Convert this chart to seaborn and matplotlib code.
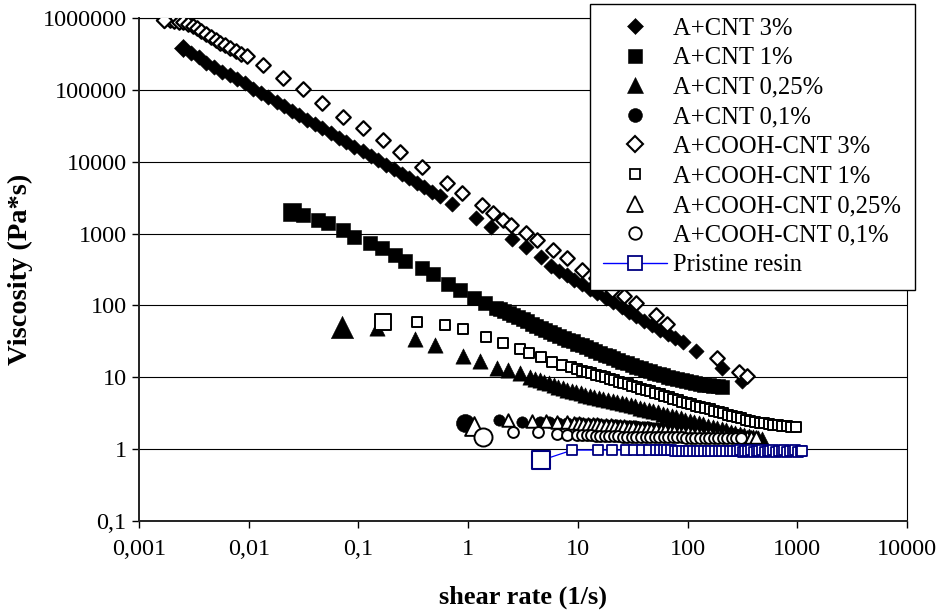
import matplotlib
matplotlib.use("Agg")
import matplotlib.pyplot as plt
from matplotlib.lines import Line2D
from matplotlib.ticker import FixedLocator, FixedFormatter, NullLocator
import pandas as pd
import seaborn as sns

# ---------------- data ----------------
series_labels = ["A+CNT 3%", "A+CNT 1%", "A+CNT 0,25%", "A+CNT 0,1%",
                 "A+COOH-CNT 3%", "A+COOH-CNT 1%", "A+COOH-CNT 0,25%",
                 "A+COOH-CNT 0,1%", "Pristine resin"]

cnt3_x = [0.0025, 0.0030, 0.0035, 0.0041, 0.0048, 0.0057, 0.0067, 0.0079, 0.0093, 0.011,
          0.013, 0.015, 0.018, 0.021, 0.025, 0.029, 0.034, 0.040, 0.047, 0.056,
          0.066, 0.077, 0.091, 0.11, 0.13, 0.15, 0.18, 0.21, 0.25, 0.29,
          0.34, 0.40, 0.47, 0.55, 0.72, 1.19, 1.63, 2.5, 3.4, 4.66, 5.7,
          6.7, 7.9, 9.3, 11, 13, 15, 18, 21, 25, 29, 34, 40, 47, 56, 66, 77,
          90, 120, 207, 315]
cnt3_y = [380000, 330000, 285000, 240000, 210000, 180000, 160000, 141000, 123000, 104000,
          90000, 79000, 68000, 59000, 51000, 44500, 38500, 33500, 29000, 25000,
          21500, 18800, 16200, 13900, 12000, 10500, 9000, 7800, 6700, 5900,
          5100, 4400, 3850, 3350, 2600, 1640, 1230, 840, 650, 470, 355,
          305, 264, 228, 197, 170, 148, 127, 110, 95, 82, 71, 61, 53, 46, 40, 35,
          31, 23, 13.4, 8.9]

cnt1_x = [0.025, 0.031, 0.043, 0.0525, 0.072, 0.092, 0.127, 0.163, 0.214, 0.264,
          0.377, 0.474, 0.65, 0.836, 1.14, 1.41, 1.81,
          1.95, 2.14, 2.36, 2.59, 2.85, 3.14, 3.45, 3.8, 4.18, 4.59,
          5.05, 5.56, 6.12, 6.73, 7.4, 8.14, 8.95, 9.85, 10.8, 11.9,
          13.1, 14.4, 15.9, 17.5, 19.2, 21.1, 23.2, 25.5, 28.1, 30.9,
          34, 37.4, 41.1, 45.2, 49.7, 54.7, 60.2, 66.2, 72.8, 80.1,
          88.1, 96.9, 107, 117, 129, 142, 156, 172, 189, 208]
cnt1_y = [1990, 1800, 1535, 1400, 1110, 890, 735, 627, 500, 413,
          330, 272, 198, 163, 126, 108, 92,
          88, 83, 78, 73, 68, 64, 60, 56, 52.5, 49,
          46, 43, 40.5, 38, 35.5, 33.5, 31.5, 29.5, 28, 26.2,
          24.7, 23.3, 22, 20.7, 19.6, 18.5, 17.4, 16.5, 15.6, 14.8,
          14.0, 13.3, 12.7, 12.1, 11.6, 11.1, 10.6, 10.2, 9.8, 9.45,
          9.1, 8.8, 8.55, 8.3, 8.1, 7.9, 7.75, 7.6, 7.45, 7.35]

cnt025_x = [0.0705, 0.147, 0.325, 0.50, 0.89, 1.27, 1.85, 2.33, 2.94, 3.7,
            4.1, 4.5, 4.96, 5.45, 6.0, 6.6, 7.26, 7.99, 8.79, 9.67,
            10.6, 11.7, 12.9, 14.1, 15.6, 17.1, 18.8, 20.7, 22.8, 25.1,
            27.6, 30.3, 33.4, 36.7, 40.4, 44.4, 48.9, 53.8, 59.1, 65,
            71.5, 78.7, 86.6, 95.2, 105, 115, 127, 139, 153, 169,
            185, 204, 224, 247, 272, 299, 329, 361, 398, 437, 481]
cnt025_y = [50, 48, 34, 28, 20, 16.8, 13.4, 12.6, 11.4, 10,
            9.5, 9.05, 8.65, 8.3, 7.85, 7.4, 7.05, 6.75, 6.5, 6.2,
            6.0, 5.75, 5.55, 5.35, 5.15, 4.97, 4.8, 4.65, 4.5, 4.38,
            4.22, 4.08, 3.93, 3.78, 3.63, 3.5, 3.38, 3.25, 3.13, 3.0,
            2.9, 2.78, 2.67, 2.57, 2.48, 2.39, 2.3, 2.21, 2.12, 2.04,
            1.97, 1.9, 1.83, 1.76, 1.7, 1.64, 1.58, 1.53, 1.48, 1.44, 1.4]

cnt01_x = [0.93, 1.93, 3.1, 4.5, 5.5, 6.6, 8, 9.6,
           10.5, 11.6, 12.7, 14, 15.4, 16.9, 18.6, 20.5, 22.5, 24.8,
           27.3, 30, 33, 36.3, 39.9, 43.9, 48.3, 53.1, 58.4, 64.3,
           70.7, 77.8, 85.6, 94.1, 104, 114, 125, 138, 152, 167,
           183, 202, 222, 244, 268]
cnt01_y = [2.3, 2.54, 2.4, 2.38, 2.36, 2.34, 2.32, 2.3,
           2.29, 2.27, 2.26, 2.24, 2.22, 2.2, 2.19, 2.17, 2.15, 2.13,
           2.11, 2.09, 2.07, 2.05, 2.03, 2.01, 1.99, 1.97, 1.95, 1.92,
           1.9, 1.88, 1.86, 1.84, 1.82, 1.8, 1.78, 1.76, 1.74, 1.73,
           1.71, 1.69, 1.67, 1.66, 1.64]

coo3_x = [0.0017, 0.0019, 0.0021, 0.0023, 0.0025, 0.0028, 0.0031, 0.0034, 0.0037, 0.0041,
          0.0045, 0.0050, 0.0055, 0.0061, 0.0068, 0.0076, 0.0085, 0.0096,
          0.0134, 0.0205, 0.031, 0.047, 0.072, 0.109, 0.166, 0.238, 0.38, 0.64,
          0.87, 1.35, 1.67, 2.06, 2.48, 3.4, 4.2, 5.9, 7.9, 11,
          14.5, 20.6, 26.5, 34, 52, 65, 186, 296, 350]
coo3_y = [950000, 930000, 910000, 890000, 870000, 830000, 780000, 720000, 660000, 600000,
          550000, 500000, 455000, 415000, 380000, 350000, 320000, 295000,
          225000, 148000, 103000, 66000, 42000, 29500, 19800, 13500, 8400, 5000,
          3650, 2480, 1920, 1540, 1310, 1010, 810, 590, 455, 310,
          240, 163, 135, 108, 73, 55, 18.5, 11.8, 10.4]

coo1_x = [0.166, 0.34, 0.61, 0.89, 1.47, 2.06, 2.94, 3.62, 4.66, 5.86, 7.2, 8.7, 9.9,
          11, 12.1, 13.3, 14.6, 16.1, 17.7, 19.5, 21.4, 23.6, 25.9,
          28.5, 31.4, 34.5, 38, 41.8, 45.9, 50.5, 55.6, 61.2, 67.3,
          74, 81.4, 89.5, 98.5, 108, 119, 131, 144, 159, 175,
          192, 211, 232, 256, 281, 309, 340, 374, 411, 453,
          498, 548, 602, 663, 729, 802, 882, 970]
coo1_y = [58.6, 58.6, 53, 46.8, 36, 30, 24.7, 21.7, 19.1, 16.3, 14.8, 13.9, 13,
          12.4, 11.9, 11.4, 10.9, 10.4, 9.95, 9.5, 9.1, 8.7, 8.35,
          8.0, 7.65, 7.3, 6.95, 6.65, 6.35, 6.05, 5.8, 5.5, 5.25,
          5.05, 4.8, 4.6, 4.4, 4.2, 4.03, 3.87, 3.72, 3.57, 3.42,
          3.28, 3.14, 3.0, 2.88, 2.77, 2.67, 2.57, 2.48, 2.41, 2.34,
          2.28, 2.23, 2.18, 2.14, 2.1, 2.07, 2.05, 2.03]

coo025_x = [1.14, 2.29, 3.8, 5.17, 6.5, 7.9, 9.3,
            10.2, 11.2, 12.3, 13.6, 14.9, 16.4, 18.1, 19.9, 21.9, 24.1,
            26.5, 29.1, 32, 35.2, 38.7, 42.6, 46.9, 51.6, 56.7, 62.4,
            68.6, 75.5, 83, 91.3, 100, 110, 121, 133, 147, 161,
            177, 195, 215, 236, 260, 286, 314, 346, 380, 418]
coo025_y = [2.1, 2.55, 2.48, 2.46, 2.4, 2.35, 2.3,
            2.29, 2.27, 2.25, 2.23, 2.21, 2.19, 2.16, 2.14, 2.12, 2.1,
            2.08, 2.05, 2.02, 2.0, 1.97, 1.94, 1.91, 1.88, 1.86, 1.83,
            1.8, 1.78, 1.75, 1.73, 1.71, 1.68, 1.66, 1.64, 1.62, 1.6,
            1.58, 1.57, 1.55, 1.54, 1.52, 1.51, 1.5, 1.48, 1.47, 1.46]

coo01_x = [1.36, 2.54, 4.3, 6.4, 8.0, 9.9,
           10.9, 12, 13.2, 14.5, 16, 17.6, 19.3, 21.3, 23.4, 25.7,
           28.3, 31.1, 34.2, 37.7, 41.4, 45.6, 50.1, 55.1, 60.7, 66.7,
           73.4, 80.8, 88.8, 97.7, 107, 118, 130, 143, 157, 173,
           190, 209, 230, 253, 279, 306]
coo01_y = [1.49, 1.73, 1.73, 1.62, 1.58, 1.58,
           1.57, 1.56, 1.55, 1.54, 1.53, 1.52, 1.51, 1.5, 1.5, 1.49,
           1.49, 1.49, 1.48, 1.48, 1.48, 1.47, 1.47, 1.47, 1.47, 1.46,
           1.46, 1.46, 1.46, 1.45, 1.45, 1.45, 1.45, 1.44, 1.44, 1.44,
           1.43, 1.43, 1.43, 1.42, 1.42, 1.42]

pr_x = [4.66, 8.9, 15.4, 20.6, 27.7, 32.7, 38.7, 44.8, 51.9, 56,
        60.5, 65.4, 70.6, 76.2, 82.3, 88.9, 96, 104, 112, 121,
        131, 141, 152, 164, 178, 192, 207, 224, 242, 261,
        282, 300, 318, 337, 357, 378, 401, 425, 451, 478,
        506, 537, 569, 603, 639, 677, 718, 761, 807, 855,
        907, 961, 1019, 1080, 1107]
pr_y = [0.70, 0.97, 0.97, 0.97, 0.97, 0.97, 0.965, 0.965, 0.96, 0.96,
        0.96, 0.96, 0.958, 0.957, 0.956, 0.955, 0.954, 0.953, 0.952, 0.951,
        0.95, 0.949, 0.948, 0.947, 0.946, 0.945, 0.944, 0.943, 0.942, 0.941,
        0.94, 0.97, 0.925, 0.955, 0.93, 0.965, 0.92, 0.95, 0.93, 0.965,
        0.925, 0.955, 0.93, 0.965, 0.92, 0.955, 0.93, 0.965, 0.925, 0.955,
        0.93, 0.96, 0.925, 0.95, 0.94]

x_ticks = [0.001, 0.01, 0.1, 1, 10, 100, 1000, 10000]
x_tick_labels = ["0,001", "0,01", "0,1", "1", "10", "100", "1000", "10000"]
y_ticks = [0.1, 1, 10, 100, 1000, 10000, 100000, 1000000]
y_tick_labels = ["0,1", "1", "10", "100", "1000", "10000", "100000", "1000000"]
x_label = "shear rate (1/s)"
y_label = "Viscosity (Pa*s)"

# ---------------- style ----------------
sns.set_style("white")
plt.rcParams["font.family"] = ["Liberation Serif", "DejaVu Serif"]

W, H = 936, 614
fig = plt.figure(figsize=(W / 100, H / 100), dpi=100)
ax = fig.add_axes([139 / W, 1 - 521 / H, (907 - 139) / W, (521 - 18) / H])
ax.set_xscale("log")
ax.set_yscale("log")

NAVY = "#000080"
BLUE = "#0000FF"

# (x, y, marker, size_pt, first_point_size_pt, filled, edge_width)
specs = [
    (cnt3_x, cnt3_y, "D", 7.8, 9.2, True, 0.4),
    (cnt1_x, cnt1_y, "s", 9.4, 13.0, True, 0.4),
    (cnt025_x, cnt025_y, "^", 11.0, 16.0, True, 0.4),
    (cnt01_x, cnt01_y, "o", 8.2, 13.0, True, 0.4),
    (coo3_x, coo3_y, "D", 7.4, 7.8, False, 1.6),
    (coo1_x, coo1_y, "s", 7.2, 12.0, False, 1.4),
    (coo025_x, coo025_y, "^", 9.0, 13.5, False, 1.4),
    (coo01_x, coo01_y, "o", 7.8, 13.0, False, 1.4),
]

for i, (xs, ys, mk, sz, big, filled, lw) in enumerate(specs):
    df = pd.DataFrame({"x": xs, "y": ys})
    face = "black" if filled else "white"
    sns.scatterplot(data=df.iloc[1:], x="x", y="y", marker=mk, s=sz ** 2,
                    color=face, edgecolor="black", linewidth=lw,
                    legend=False, ax=ax, zorder=3 + i)
    sns.scatterplot(data=df.iloc[:1], x="x", y="y", marker=mk, s=big ** 2,
                    color=face, edgecolor="black", linewidth=lw,
                    legend=False, ax=ax, zorder=3 + i)

# pristine resin: line + open navy squares
pr_df = pd.DataFrame({"x": pr_x, "y": pr_y})
sns.lineplot(data=pr_df, x="x", y="y", sort=False, estimator=None,
             color=BLUE, linewidth=0.9, ax=ax, zorder=11, legend=False)
sns.scatterplot(data=pr_df.iloc[1:], x="x", y="y", marker="s", s=7.0 ** 2,
                color="white", edgecolor=NAVY, linewidth=1.3,
                legend=False, ax=ax, zorder=12)
sns.scatterplot(data=pr_df.iloc[:1], x="x", y="y", marker="s", s=12.5 ** 2,
                color="white", edgecolor=NAVY, linewidth=1.5,
                legend=False, ax=ax, zorder=12)

# ---------------- axes ----------------
ax.set_xlim(x_ticks[0], x_ticks[-1])
ax.set_ylim(y_ticks[0], y_ticks[-1])
ax.xaxis.set_major_locator(FixedLocator(x_ticks))
ax.xaxis.set_major_formatter(FixedFormatter(x_tick_labels))
ax.yaxis.set_major_locator(FixedLocator(y_ticks))
ax.yaxis.set_major_formatter(FixedFormatter(y_tick_labels))
ax.xaxis.set_minor_locator(NullLocator())
ax.yaxis.set_minor_locator(NullLocator())

ax.set_axisbelow(True)
ax.yaxis.grid(True, color="black", linewidth=0.8)
ax.xaxis.grid(False)

for side in ["left", "bottom"]:
    ax.spines[side].set_color("#222222")
    ax.spines[side].set_linewidth(1.4)
for side in ["top", "right"]:
    ax.spines[side].set_color("black")
    ax.spines[side].set_linewidth(0.8)

ax.tick_params(axis="both", which="major", direction="out", length=5,
               width=1.0, color="black", labelsize=17.5, labelcolor="black")
ax.tick_params(axis="x", pad=8)
ax.tick_params(axis="y", pad=4)
ax.tick_params(left=True, bottom=True)

ax.set_xlabel(x_label, fontsize=19, fontweight="bold", color="black")
ax.set_ylabel(y_label, fontsize=20.5, fontweight="bold", color="black")
ax.xaxis.set_label_coords(0.5, -(597 - 521) / 503)
ax.xaxis.label.set_va("center")
ax.yaxis.set_label_coords(-(139 - 20) / 768, 0.5)
ax.yaxis.label.set_va("center")

# ---------------- legend ----------------
def mk_handle(marker, size, filled, edge="black", line=False, ew=None):
    return Line2D([], [], linestyle="-" if line else "none",
                  color=BLUE if line else "black", linewidth=1.0,
                  marker=marker, markersize=size,
                  markerfacecolor=("black" if filled else "white"),
                  markeredgecolor=edge,
                  markeredgewidth=(ew if ew is not None else (0.4 if filled else 1.3)))

handles = [
    mk_handle("D", 8.5, True),
    mk_handle("s", 10.5, True),
    mk_handle("^", 12.0, True),
    mk_handle("o", 10.0, True),
    mk_handle("D", 8.0, False, ew=1.5),
    mk_handle("s", 7.2, False),
    mk_handle("^", 11.0, False),
    mk_handle("o", 9.0, False),
    mk_handle("s", 10.0, False, edge=NAVY, line=True),
]
leg = fig.legend(handles, series_labels, loc="upper right",
                 bbox_to_anchor=(915 / W, 1 - 4 / H), borderaxespad=0,
                 frameon=True, fancybox=False, framealpha=1, edgecolor="black",
                 borderpad=0.55, labelspacing=0.30, handlelength=2.6,
                 handletextpad=0.25, prop={"size": 17.7})
leg.get_frame().set_linewidth(1.0)
for t in leg.get_texts():
    t.set_color("black")

fig.savefig("out.png", dpi=100)
